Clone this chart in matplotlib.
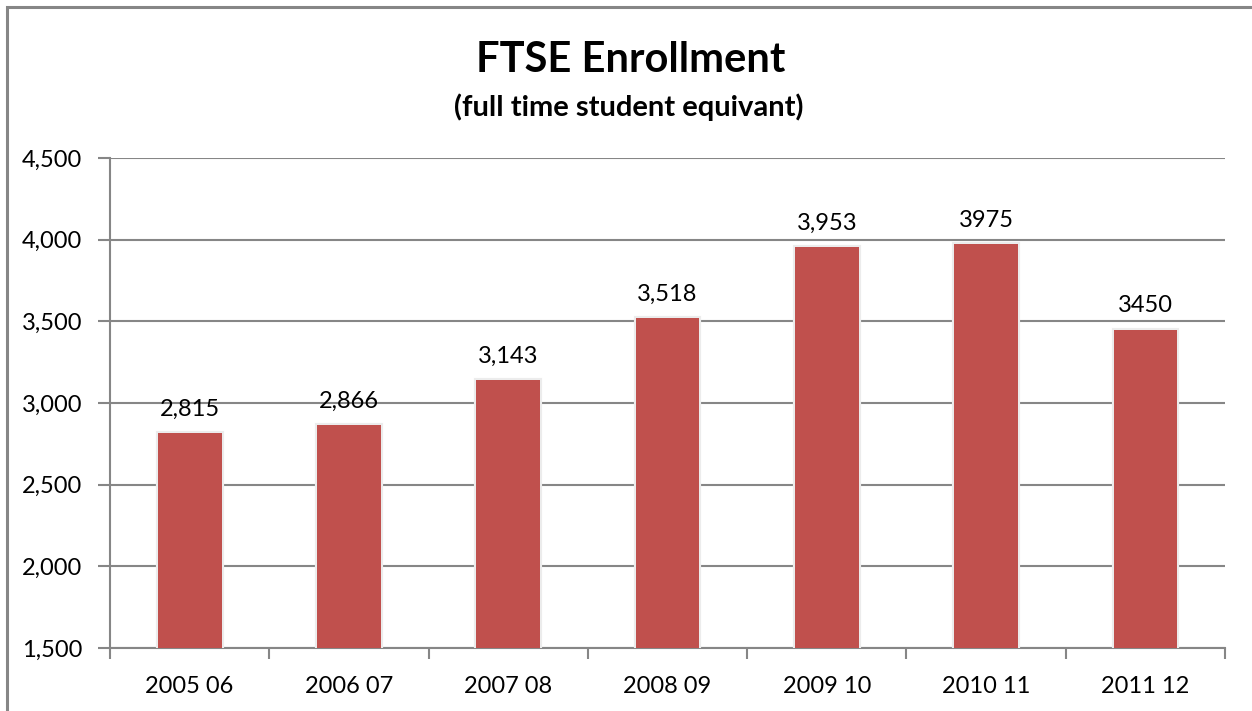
import matplotlib
matplotlib.use('Agg')
import matplotlib.pyplot as plt
import matplotlib.patheffects as pe
from matplotlib.patches import Rectangle
from matplotlib.ticker import FuncFormatter, MultipleLocator

years = ['2005 06', '2006 07', '2007 08', '2008 09', '2009 10', '2010 11', '2011 12']
ftse = [2815, 2866, 3143, 3518, 3953, 3975, 3450]
# the last two years were typed in without thousands separators
use_comma = [True, True, True, True, True, False, False]

plt.rcParams['font.family'] = ['Lato', 'DejaVu Sans']

GRID = '#868686'
BAR = '#C0504D'

fig = plt.figure(figsize=(12.52, 7.11), dpi=100)
fig.patch.set_facecolor('white')

# chart area frame (only top and left edges fall inside the image)
fig.patches.append(Rectangle((7 / 1252, -0.05), 1.1, 1 - 7 / 711 + 0.05,
                             transform=fig.transFigure, fill=False,
                             edgecolor=GRID, linewidth=2.2))

ax = fig.add_axes([110 / 1252, 63 / 711, 1115 / 1252, 490 / 711])

x = list(range(len(years)))
bars = ax.bar(x, ftse, width=0.4, bottom=0, color=BAR, zorder=3)
for b in bars:
    b.set_path_effects([pe.Stroke(linewidth=3, foreground='#ececec'), pe.Normal()])

for xi, v, c in zip(x, ftse, use_comma):
    txt = '{:,}'.format(v) if c else str(v)
    ax.text(xi, v + 80, txt, ha='center', va='bottom', fontsize=17, color='black', zorder=4)

ax.set_ylim(1500, 4500)
ax.set_xlim(-0.5, len(years) - 0.5)
ax.yaxis.set_major_locator(MultipleLocator(500))
ax.yaxis.set_major_formatter(FuncFormatter(lambda v, p: '{:,}'.format(int(v))))
ax.grid(axis='y', color=GRID, linewidth=1.5, zorder=0)
ax.set_axisbelow(True)

ax.set_xticks(x)
ax.set_xticklabels(years)
ax.set_xticks([i + 0.5 for i in range(-1, len(years))], minor=True)
ax.tick_params(axis='x', which='major', length=0, pad=20, labelsize=17)
ax.tick_params(axis='x', which='minor', length=8, width=1.5, color=GRID, direction='out')
ax.tick_params(axis='y', length=9, width=1.5, color=GRID, pad=11, labelsize=17)

for s in ['top', 'right']:
    ax.spines[s].set_visible(False)
for s in ['left', 'bottom']:
    ax.spines[s].set_color(GRID)
    ax.spines[s].set_linewidth(1.5)

fig.text(631 / 1252, 1 - 60 / 711, 'FTSE Enrollment', ha='center', va='center',
         fontsize=30, fontweight='bold')
fig.text(629 / 1252, 1 - 107 / 711, '(full time student equivant)', ha='center', va='center',
         fontsize=21, fontweight='bold')

plt.savefig('out.png', dpi=100)
